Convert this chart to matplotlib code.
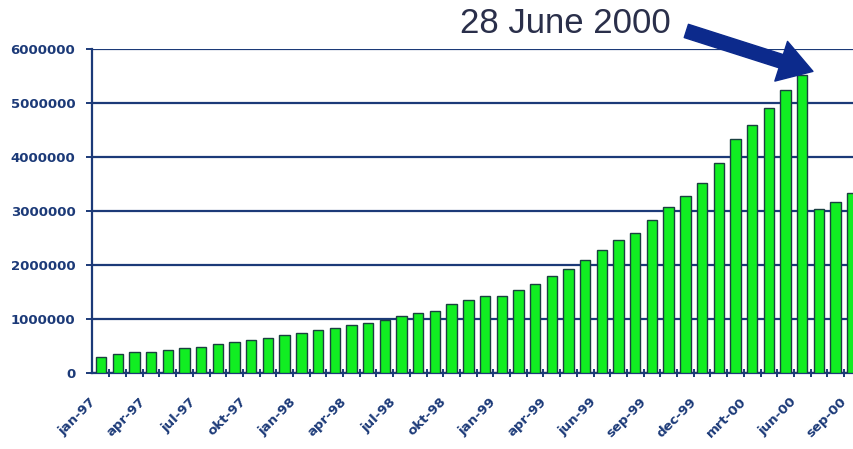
import numpy as np
import matplotlib.pyplot as plt
import matplotlib.transforms as mtransforms
from matplotlib.patches import FancyArrowPatch

# waarden per maand (jan-97 .. okt-00)
waarden = [300000, 350000, 380000, 380000, 420000, 460000, 490000, 530000,
           570000, 610000, 640000, 710000, 750000, 800000, 830000, 890000,
           935000, 990000, 1050000, 1120000, 1150000, 1270000, 1350000, 1430000,
           1420000, 1530000, 1640000, 1790000, 1930000, 2090000, 2270000, 2460000,
           2600000, 2830000, 3080000, 3270000, 3520000, 3890000, 4340000, 4600000,
           4900000, 5240000, 5520000, 3040000, 3160000, 3340000]
tick_labels = ['jan-97', 'apr-97', 'jul-97', 'okt-97', 'jan-98', 'apr-98', 'jul-98', 'okt-98',
               'jan-99', 'apr-99', 'jun-99', 'sep-99', 'dec-99', 'mrt-00', 'jun-00', 'sep-00']
y_ticks = [0, 1000000, 2000000, 3000000, 4000000, 5000000, 6000000]

blauw = '#1c3a78'
x = np.arange(len(waarden))

fig = plt.figure(figsize=(8.54, 4.49), dpi=100)
ax = fig.add_axes([92/854, 76/449, 1 - 92/854, 324/449])

ax.bar(x, waarden, width=0.62, color='#11ee22', edgecolor='#1a4040', linewidth=1.0, zorder=3)

ax.set_xlim(-0.54, 45.1)
ax.set_ylim(0, 6000000)
ax.set_yticks(y_ticks)
ax.set_yticklabels([str(v) for v in y_ticks])
ax.yaxis.grid(True, color=blauw, linewidth=1.6, zorder=1)

ax.set_xticks(x[::3])
ax.set_xticklabels(tick_labels, rotation=45, ha='right', va='top', rotation_mode='anchor')
ax.set_xticks(x[:-1] + 0.5, minor=True)
ax.tick_params(axis='x', which='both', length=0)
ax.tick_params(axis='x', which='minor', length=6, width=1.4, color=blauw, direction='inout')
ax.tick_params(axis='x', which='major', pad=16)
ax.tick_params(axis='y', length=4, width=1.4, color=blauw, pad=8)

# labels iets naar links schuiven zoals in het origineel
verschuif = mtransforms.ScaledTranslation(-0.12, 0, fig.dpi_scale_trans)
for lab in ax.get_xticklabels():
    lab.set_transform(lab.get_transform() + verschuif)
for lab in ax.get_xticklabels() + ax.get_yticklabels():
    lab.set_color(blauw)
    lab.set_fontsize(9.5)
    lab.set_fontweight('bold')

for kant in ['top', 'right']:
    ax.spines[kant].set_visible(False)
for kant in ['left', 'bottom']:
    ax.spines[kant].set_color(blauw)
    ax.spines[kant].set_linewidth(1.6)

# annotatie
ax.text(27.8, 6470000, '28 June 2000', fontsize=25, family='Liberation Sans',
        color='#2a2f4a', ha='center', va='center', clip_on=False)
pijl = FancyArrowPatch((34.9, 6350000), (42.8, 5570000),
                       arrowstyle='simple,head_width=1.5,head_length=1.2,tail_width=0.5',
                       mutation_scale=20, color='#0c2a8c', clip_on=False, zorder=5)
ax.add_patch(pijl)

plt.savefig('out.png', dpi=100)
